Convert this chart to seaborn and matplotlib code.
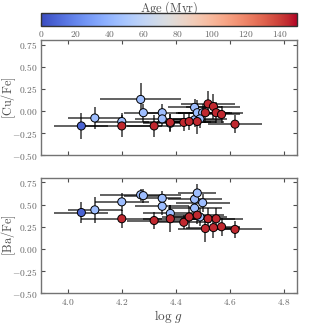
import numpy as np
import pandas as pd
import matplotlib
matplotlib.use("Agg")
import matplotlib.pyplot as plt
import seaborn as sns

sns.set_style("ticks")
plt.rcParams["font.family"] = ["serif"]
plt.rcParams["font.serif"] = ["cmr10", "DejaVu Serif"]
plt.rcParams["mathtext.fontset"] = "cm"
plt.rcParams["axes.formatter.use_mathtext"] = True
plt.rcParams["axes.unicode_minus"] = True

# Star data
logg = [4.05, 4.10, 4.20, 4.27, 4.28, 4.35, 4.35, 4.38, 4.47, 4.47, 4.48, 4.50, 4.49,
        4.20, 4.32, 4.38, 4.43, 4.45, 4.48, 4.51, 4.52, 4.54, 4.55, 4.57, 4.62]
age = [8, 45, 45, 45, 45, 45, 45, 45, 45, 45, 45, 45, 45,
       145, 145, 145, 145, 145, 145, 145, 145, 145, 145, 145, 145]
cu_fe = [-0.17, -0.08, -0.12, 0.13, -0.02, -0.02, -0.09, -0.14, 0.04, -0.10, -0.02, -0.02, -0.09,
         -0.17, -0.17, -0.13, -0.13, -0.12, -0.12, -0.02, 0.08, 0.05, -0.02, -0.04, -0.15]
ba_fe = [0.41, 0.44, 0.53, 0.61, 0.60, 0.57, 0.48, 0.40, 0.56, 0.46, 0.63, 0.52, 0.36,
         0.34, 0.32, 0.34, 0.30, 0.36, 0.38, 0.23, 0.34, 0.24, 0.34, 0.25, 0.22]
logg_err = [0.10, 0.10, 0.10, 0.15, 0.07, 0.07, 0.10, 0.10, 0.10, 0.10, 0.07, 0.10, 0.10,
            0.15, 0.10, 0.10, 0.10, 0.10, 0.10, 0.10, 0.10, 0.10, 0.10, 0.07, 0.10]
cu_err = [0.15, 0.12, 0.10, 0.19, 0.10, 0.10, 0.08, 0.10, 0.10, 0.08, 0.14, 0.10, 0.10,
          0.12, 0.12, 0.10, 0.10, 0.10, 0.14, 0.12, 0.14, 0.14, 0.12, 0.10, 0.10]
ba_err = [0.12, 0.15, 0.10, 0.07, 0.08, 0.08, 0.10, 0.10, 0.08, 0.10, 0.10, 0.10, 0.10,
          0.10, 0.10, 0.15, 0.08, 0.12, 0.10, 0.15, 0.12, 0.12, 0.12, 0.10, 0.10]

df = pd.DataFrame({"logg": logg, "age": age, "cu": cu_fe, "ba": ba_fe,
                   "xerr": logg_err, "cu_err": cu_err, "ba_err": ba_err})

fig = plt.figure(figsize=(3.3, 3.3), dpi=100)
cax = fig.add_axes([0.124, 0.921, 0.776, 0.039])
ax1 = fig.add_axes([0.124, 0.530, 0.776, 0.348])
ax2 = fig.add_axes([0.124, 0.111, 0.776, 0.350])

cmap = plt.get_cmap("coolwarm")
norm = matplotlib.colors.Normalize(vmin=0, vmax=150)
gray = "0.45"

for ax, col, ecol, lab in [(ax1, "cu", "cu_err", r"$[\mathrm{Cu/Fe}]$"),
                           (ax2, "ba", "ba_err", r"$[\mathrm{Ba/Fe}]$")]:
    ax.errorbar(df["logg"], df[col], xerr=df["xerr"], yerr=df[ecol], fmt="none",
                ecolor="k", alpha=0.72, elinewidth=1.2, capsize=0, zorder=1)
    sns.scatterplot(data=df, x="logg", y=col, hue="age", palette=cmap, hue_norm=norm,
                    s=34, edgecolor="k", linewidth=0.7, legend=False, ax=ax, zorder=3)
    ax.set_xlim(3.9, 4.85)
    ax.set_ylim(-0.5, 0.8)
    ax.set_yticks([-0.5, -0.25, 0.0, 0.25, 0.5, 0.75])
    ax.set_yticklabels([r"$-0.50$", r"$-0.25$", r"$0.00$", r"$0.25$", r"$0.50$", r"$0.75$"])
    ax.set_xticks([4.0, 4.2, 4.4, 4.6, 4.8])
    ax.set_ylabel(lab, fontsize=8.8, color="0.3")
    ax.yaxis.set_label_coords(-0.088, 0.5)
    ax.tick_params(direction="in", top=True, right=True, labelsize=6.8,
                   labelcolor="0.4", color="0.3", length=3, width=0.8, pad=2.5)
    for sp in ax.spines.values():
        sp.set_color(gray)
        sp.set_linewidth(1.0)

ax1.set_xlabel("")
ax1.tick_params(labelbottom=False)
ax2.set_xticklabels([r"$4.0$", r"$4.2$", r"$4.4$", r"$4.6$", r"$4.8$"])
ax2.set_xlabel(r"$\log\,g$", fontsize=9.5, color="0.3", labelpad=1)

sm = matplotlib.cm.ScalarMappable(norm=norm, cmap=cmap)
cb = fig.colorbar(sm, cax=cax, orientation="horizontal")
cb.set_ticks([0, 20, 40, 60, 80, 100, 120, 140])
cb.set_ticklabels([r"$0$", r"$20$", r"$40$", r"$60$", r"$80$", r"$100$", r"$120$", r"$140$"])
cax.tick_params(direction="in", labelsize=6.8, labelcolor="0.4", color="0.2", length=3, pad=2)
cax.xaxis.set_label_position("top")
cb.set_label(r"$\mathrm{Age\ (Myr)}$", fontsize=9, color="0.3", labelpad=1)
cb.outline.set_edgecolor("0.2")
cb.outline.set_linewidth(1.0)

fig.savefig("out.png", dpi=100)
